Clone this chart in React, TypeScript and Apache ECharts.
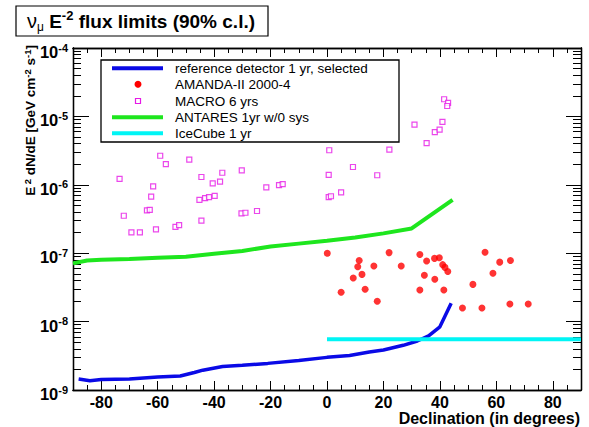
import React, { useEffect, useRef } from 'react';
import * as echarts from 'echarts';

// ---- tick labels / tick positions ----
const xMajorTicks = [-80, -60, -40, -20, 0, 20, 40, 60, 80];
const xMinorTicks = [-85, -75, -70, -65, -55, -50, -45, -35, -30, -25, -15, -10, -5, 5, 10, 15, 25, 30, 35, 45, 50, 55, 65, 70, 75, 85];
const yMajorTicks = [1e-9, 1e-8, 1e-7, 1e-6, 1e-5, 1e-4];
const yMinorMultipliers = [2, 3, 4, 5, 6, 7, 8, 9];
const yMinorTicks = yMajorTicks.slice(0, -1).flatMap((d) => yMinorMultipliers.map((m) => +(m * d).toPrecision(3)));

// ---- series data ----
const legendNames = [
  'reference detector 1 yr, selected',
  'AMANDA-II 2000-4',
  'MACRO 6 yrs',
  'ANTARES 1yr w/0 sys',
  'IceCube 1 yr',
];

const decReference = [-88, -84, -80, -70, -60, -52, -47, -44, -37, -30, -21, -10, 0, 8, 15, 20, 27, 32, 36, 40, 44];
const fluxReference = [1.45e-9, 1.37e-9, 1.42e-9, 1.45e-9, 1.55e-9, 1.6e-9, 1.8e-9, 1.95e-9, 2.2e-9, 2.3e-9, 2.45e-9, 2.7e-9, 3.0e-9, 3.2e-9, 3.6e-9, 3.85e-9, 4.5e-9, 5.2e-9, 6.2e-9, 8.4e-9, 1.86e-8];

const decAntares = [-90, -85, -80, -70, -60, -50, -40, -30, -20, -10, 0, 10, 20, 30, 44.5];
const fluxAntares = [7.1e-8, 7.8e-8, 8.0e-8, 8.2e-8, 8.6e-8, 8.9e-8, 9.8e-8, 1.08e-7, 1.25e-7, 1.38e-7, 1.52e-7, 1.7e-7, 1.95e-7, 2.3e-7, 6.0e-7];

const decIceCube = [0, 90];
const fluxIceCube = [5.5e-9, 5.5e-9];

const decAmanda = [0.1, 11.4, 10.9, 16.6, 22, 26.3, 9.3, 12.4, 5, 13.5, 17.8, 32.9, 35.3, 38.1, 39.8, 41, 41.8, 42.8, 34.5, 38.2, 32.9, 41.4, 51.7, 56, 61.2, 65, 58.8, 48, 54.9, 64.8, 71.3];
const fluxAmanda = [1.0e-7, 7.8e-8, 6.35e-8, 6.5e-8, 1.02e-7, 6.5e-8, 4.33e-8, 4.9e-8, 2.68e-8, 2.97e-8, 1.98e-8, 9.6e-8, 7.7e-8, 8.4e-8, 8.6e-8, 6.8e-8, 6.2e-8, 5.4e-8, 4.75e-8, 4.17e-8, 2.9e-8, 2.9e-8, 3.5e-8, 1.03e-7, 7.4e-8, 7.8e-8, 5.1e-8, 1.58e-8, 1.58e-8, 1.81e-8, 1.81e-8];

const decMacro = [-59.1, -57.1, -48.8, -73.5, -61.6, -62.3, -63.8, -62.8, -72, -69.3, -66.3, -60.6, -53.7, -52.4, -44.5, -37.1, -40.5, -37.9, -45.2, -43.2, -41.8, -39.8, -44.5, -30.2, -30.3, -28.9, -24.8, -21.5, -17, -15.7, 0.8, 0.6, 0.6, 1.4, 22.1, 9.2, 17.8, 5, 31, 41.5, 42.9, 42.6, 40.9, 38.2, 39.9, 35.3];
const fluxMacro = [2.66e-6, 2.0e-6, 2.33e-6, 1.22e-6, 9.5e-7, 6.7e-7, 4.24e-7, 4.3e-7, 3.53e-7, 2.02e-7, 2.02e-7, 2.23e-7, 2.42e-7, 2.58e-7, 1.3e-6, 1.5e-6, 1.05e-6, 1.11e-6, 6.0e-7, 6.4e-7, 6.6e-7, 6.9e-7, 2.99e-7, 1.63e-6, 3.83e-7, 3.9e-7, 4.14e-7, 9.2e-7, 9.9e-7, 1.02e-6, 3.2e-6, 1.4e-6, 6.6e-7, 6.8e-7, 3.26e-6, 1.82e-6, 1.38e-6, 7.76e-7, 7.57e-6, 1.78e-5, 1.58e-5, 1.42e-5, 8.3e-6, 5.9e-6, 6.4e-6, 4.08e-6];

const FONT = '"Liberation Sans", Arial, Helvetica, sans-serif';
const BLUE = '#0a0ae6';
const GREEN = '#1ee61e';
const CYAN = '#00f5f5';
const RED = '#ff0000';
const MAGENTA = '#e619e6';

const zip = (xs: number[], ys: number[]) => xs.map((x, i) => [x, ys[i]]);

function xAxisDef(position: 'top' | 'bottom', ticks: number[], length: number, labels: boolean) {
  return {
    type: 'value',
    position,
    min: -90,
    max: 90,
    splitLine: { show: false },
    axisLine: { show: true, onZero: false, lineStyle: { color: '#000', width: 1.3 } },
    axisTick: { show: true, inside: true, length, customValues: ticks, lineStyle: { color: '#000', width: 1 } },
    axisLabel: labels
      ? { show: true, customValues: ticks, margin: 4, color: '#000', fontSize: 16, fontWeight: 'bold', fontFamily: FONT }
      : { show: false },
  };
}

function yAxisDef(position: 'left' | 'right', ticks: number[], length: number, labels: boolean) {
  return {
    type: 'log',
    logBase: 10,
    position,
    min: 1e-9,
    max: 1e-4,
    splitLine: { show: false },
    axisLine: { show: true, onZero: false, lineStyle: { color: '#000', width: 1.3 } },
    axisTick: { show: true, inside: true, length, customValues: ticks, lineStyle: { color: '#000', width: 1 } },
    axisLabel: labels
      ? {
          show: true,
          customValues: ticks,
          margin: 5,
          padding: [8, 0, 0, 0],
          color: '#000',
          formatter: (v: number) => {
            const e = v > 0 && v < 1 ? Math.round(Math.log10(v)) : Math.round(v);
            return `{b|10}{s|${e}}`;
          },
          rich: {
            b: { fontSize: 16.5, fontWeight: 'bold', fontFamily: FONT, color: '#000', lineHeight: 20 },
            s: { fontSize: 11, fontWeight: 'bold', fontFamily: FONT, color: '#000', verticalAlign: 'top', lineHeight: 14 },
          },
        }
      : { show: false },
  };
}

export default function App() {
  const ref = useRef<HTMLDivElement>(null);
  useEffect(() => {
    if (!ref.current) return;
    const chart = echarts.init(ref.current, undefined, { renderer: 'svg' });

    const legendX = 101, legendY = 60, legendW = 298, legendH = 82;
    const rowY = [68.3, 84.3, 101, 117.3, 133.3];
    const legendEls: any[] = [
      { type: 'rect', shape: { x: legendX, y: legendY, width: legendW, height: legendH }, style: { fill: '#fff', stroke: '#000', lineWidth: 1.3 } },
      { type: 'line', shape: { x1: 112, y1: rowY[0], x2: 163, y2: rowY[0] }, style: { stroke: BLUE, lineWidth: 4 } },
      { type: 'circle', shape: { cx: 138, cy: rowY[1], r: 3.5 }, style: { fill: RED } },
      { type: 'rect', shape: { x: 135.5, y: rowY[2] - 2.5, width: 5, height: 5 }, style: { fill: '#fff', stroke: MAGENTA, lineWidth: 1.2 } },
      { type: 'line', shape: { x1: 112, y1: rowY[3], x2: 163, y2: rowY[3] }, style: { stroke: GREEN, lineWidth: 4 } },
      { type: 'line', shape: { x1: 112, y1: rowY[4], x2: 163, y2: rowY[4] }, style: { stroke: CYAN, lineWidth: 4 } },
      ...legendNames.map((n, i) => ({
        type: 'text',
        x: 175,
        y: rowY[i],
        style: { text: n, fill: '#000', fontSize: 13.5, fontFamily: FONT, align: 'left', verticalAlign: 'middle' },
      })),
    ];

    chart.setOption({
      animation: false,
      backgroundColor: '#fff',
      grid: { left: 73, right: 8, top: 48, bottom: 37, containLabel: false },
      xAxis: [
        xAxisDef('bottom', xMajorTicks, 9, true),
        xAxisDef('bottom', xMinorTicks, 5, false),
        xAxisDef('top', xMajorTicks, 9, false),
        xAxisDef('top', xMinorTicks, 5, false),
      ],
      yAxis: [
        yAxisDef('left', yMajorTicks, 16, true),
        yAxisDef('left', yMinorTicks, 8, false),
        yAxisDef('right', yMajorTicks, 15, false),
        yAxisDef('right', yMinorTicks, 8, false),
      ],
      series: [
        { type: 'line', name: legendNames[3], data: zip(decAntares, fluxAntares), symbol: 'none', lineStyle: { color: GREEN, width: 4 } },
        { type: 'line', name: legendNames[0], data: zip(decReference, fluxReference), symbol: 'none', lineStyle: { color: BLUE, width: 3.5 } },
        { type: 'line', name: legendNames[4], data: zip(decIceCube, fluxIceCube), symbol: 'none', lineStyle: { color: CYAN, width: 4 } },
        { type: 'scatter', name: legendNames[1], data: zip(decAmanda, fluxAmanda), symbol: 'circle', symbolSize: 7, itemStyle: { color: RED } },
        { type: 'scatter', name: legendNames[2], data: zip(decMacro, fluxMacro), symbol: 'rect', symbolSize: 5, itemStyle: { color: '#fff', borderColor: MAGENTA, borderWidth: 1.2 } },
      ],
      graphic: [
        // title box
        { type: 'rect', shape: { x: 16, y: 6, width: 252, height: 30 }, style: { fill: '#fff', stroke: '#000', lineWidth: 1.2 }, z: 100 },
        {
          type: 'text',
          x: 27,
          y: 21,
          z: 101,
          style: {
            text: '{g|ν}{gs|μ}{b| E}{sup|-2}{b| flux limits (90% c.l.)}',
            verticalAlign: 'middle',
            align: 'left',
            rich: {
              g: { fontSize: 20, fontFamily: FONT, fill: '#000', lineHeight: 24 },
              gs: { fontSize: 12, fontFamily: FONT, fill: '#000', verticalAlign: 'bottom', lineHeight: 14 },
              b: { fontSize: 19, fontWeight: 'bold', fontFamily: FONT, fill: '#000', lineHeight: 24 },
              sup: { fontSize: 13, fontWeight: 'bold', fontFamily: FONT, fill: '#000', verticalAlign: 'top', lineHeight: 15 },
            },
          },
        },
        // y-axis title
        {
          type: 'text',
          x: 30,
          y: 45,
          rotation: Math.PI / 2,
          z: 101,
          style: {
            text: '{a|E}{s| 2}{a| dN/dE [GeV cm}{s|-2}{a| s}{s|-1}{a|]}',
            align: 'right',
            verticalAlign: 'middle',
            rich: {
              a: { fontSize: 13.5, fontWeight: 'bold', fontFamily: FONT, fill: '#000', lineHeight: 16 },
              s: { fontSize: 9.5, fontWeight: 'bold', fontFamily: FONT, fill: '#000', verticalAlign: 'top', lineHeight: 11 },
            },
          },
        },
        // x-axis title
        {
          type: 'text',
          x: 580,
          y: 418,
          z: 101,
          style: { text: 'Declination (in degrees)', fill: '#000', fontSize: 16, fontWeight: 'bold', fontFamily: FONT, align: 'right', verticalAlign: 'middle' },
        },
        { type: 'group', z: 100, children: legendEls },
      ],
    });
    return () => chart.dispose();
  }, []);

  return <div ref={ref} style={{ position: 'absolute', left: 0, top: 0, width: 589, height: 427 }} />;
}
